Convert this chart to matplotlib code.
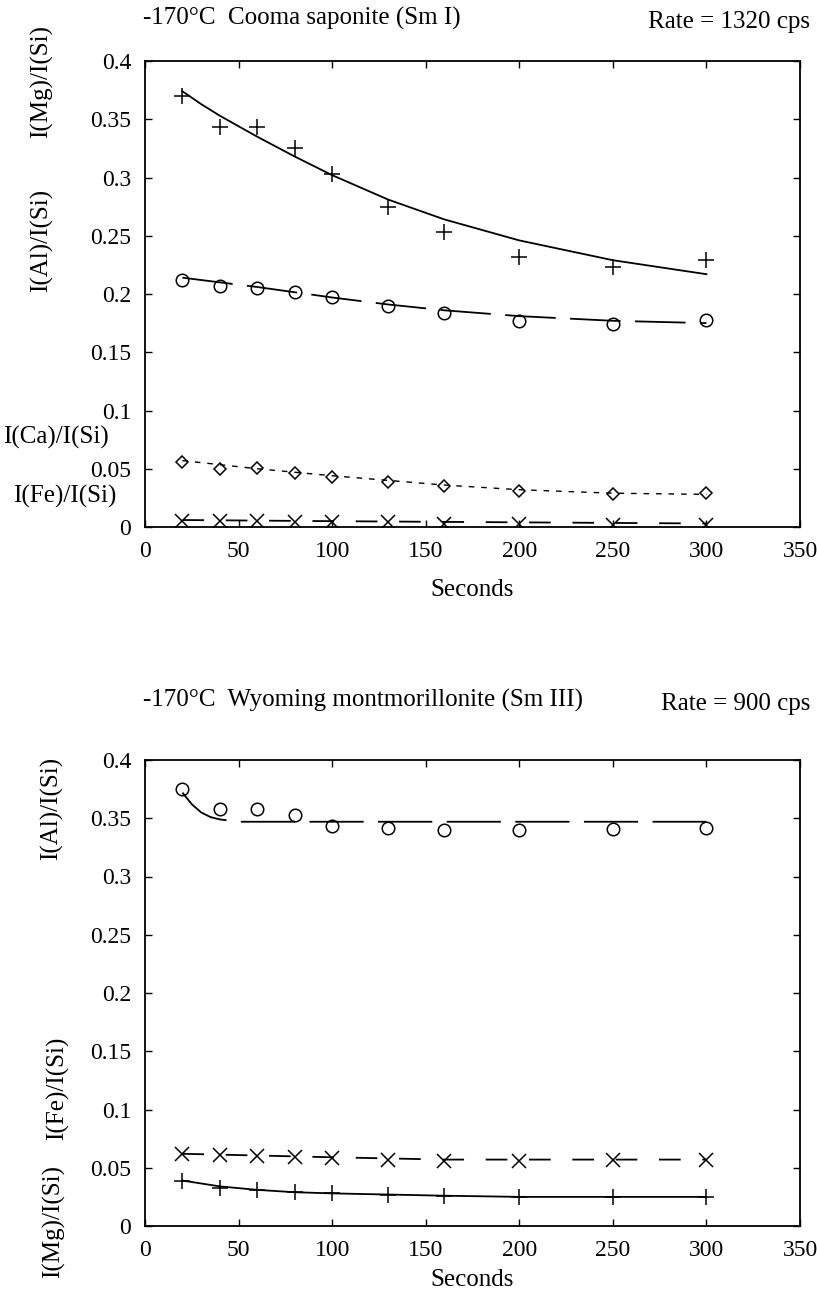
import matplotlib
matplotlib.use("Agg")
import matplotlib.pyplot as plt

plt.rcParams['font.family'] = ['Liberation Serif', 'DejaVu Serif']
plt.rcParams['font.size'] = 17

# ---------- data ----------
seconds = [20, 40, 60, 80, 100, 130, 160, 200, 250, 300]

# Top panel: Cooma saponite (Sm I)
top_mg = [0.370, 0.343, 0.343, 0.325, 0.303, 0.275, 0.253, 0.232, 0.223, 0.229]
top_al = [0.212, 0.207, 0.205, 0.202, 0.197, 0.190, 0.184, 0.177, 0.174, 0.178]
top_ca = [0.056, 0.050, 0.051, 0.046, 0.043, 0.039, 0.035, 0.031, 0.028, 0.029]
top_fe = [0.005, 0.005, 0.005, 0.004, 0.004, 0.004, 0.003, 0.003, 0.002, 0.002]

top_mg_fit_x = [20, 30, 40, 60, 80, 100, 130, 160, 200, 250, 300]
top_mg_fit_y = [0.374, 0.363, 0.353, 0.335, 0.318, 0.302, 0.281, 0.264, 0.246, 0.229, 0.217]
top_al_fit_x = [20, 60, 100, 130, 160, 200, 250, 300]
top_al_fit_y = [0.214, 0.206, 0.197, 0.191, 0.186, 0.181, 0.177, 0.175]
top_ca_fit_x = [20, 60, 100, 130, 160, 200, 250, 300]
top_ca_fit_y = [0.057, 0.050, 0.044, 0.040, 0.036, 0.032, 0.029, 0.028]
top_fe_fit_x = [20, 100, 200, 300]
top_fe_fit_y = [0.006, 0.005, 0.004, 0.003]

# Bottom panel: Wyoming montmorillonite (Sm III)
bot_al = [0.375, 0.358, 0.358, 0.353, 0.343, 0.342, 0.340, 0.340, 0.341, 0.342]
bot_fe = [0.062, 0.061, 0.060, 0.059, 0.058, 0.057, 0.056, 0.056, 0.057, 0.057]
bot_mg = [0.039, 0.033, 0.031, 0.029, 0.028, 0.027, 0.026, 0.025, 0.025, 0.025]

bot_al_fit_x = [20, 25, 30, 35, 40, 50, 100, 150, 200, 250, 300]
bot_al_fit_y = [0.372, 0.362, 0.355, 0.351, 0.349, 0.347, 0.347, 0.347, 0.347, 0.347, 0.347]
bot_fe_fit_x = [20, 100, 160, 200, 300]
bot_fe_fit_y = [0.062, 0.059, 0.057, 0.057, 0.057]
bot_mg_fit_x = [20, 40, 60, 80, 100, 130, 160, 200, 300]
bot_mg_fit_y = [0.039, 0.034, 0.031, 0.029, 0.028, 0.027, 0.026, 0.025, 0.025]

x_ticks = [0, 50, 100, 150, 200, 250, 300, 350]
y_ticks = [0, 0.05, 0.1, 0.15, 0.2, 0.25, 0.3, 0.35, 0.4]
y_ticklabels = ['0', '0.05', '0.1', '0.15', '0.2', '0.25', '0.3', '0.35', '0.4']

W, H = 817, 1300
fig = plt.figure(figsize=(W / 100, H / 100), dpi=100)


def px_axes(left, top, right, bottom):
    return fig.add_axes([left / W, 1 - bottom / H, (right - left) / W, (bottom - top) / H])


def style(ax, labelpad):
    ax.set_xlim(0, 350)
    ax.set_ylim(0, 0.4)
    ax.set_xticks(x_ticks)
    ax.set_xticklabels([str(t) for t in x_ticks])
    ax.set_yticks(y_ticks)
    ax.set_yticklabels(y_ticklabels)
    ax.tick_params(direction='in', length=5, width=1, top=True, right=True,
                   labelsize=17, pad=10)
    for s in ax.spines.values():
        s.set_linewidth(1.3)
    ax.set_xlabel('Seconds', fontsize=18, labelpad=labelpad)


k = 'black'
mk = dict(color=k, linestyle='none', markerfacecolor='none', markeredgewidth=1.1)

# ---------- top panel ----------
ax1 = px_axes(145, 61, 800, 527)
style(ax1, 12)
ax1.plot(top_mg_fit_x, top_mg_fit_y, color=k, lw=1.3)
ax1.plot(top_al_fit_x, top_al_fit_y, color=k, lw=1.3, dashes=(28, 8))
ax1.plot(top_ca_fit_x, top_ca_fit_y, color=k, lw=1.0, dashes=(4, 5))
ax1.plot(top_fe_fit_x, top_fe_fit_y, color=k, lw=1.3, dashes=(12, 12))
ax1.plot(seconds, top_mg, marker='+', markersize=12, **mk)
ax1.plot(seconds, top_al, marker='o', markersize=9, **mk)
ax1.plot(seconds, top_ca, marker='D', markersize=6.5, **mk)
ax1.plot(seconds, top_fe, marker='x', markersize=10, **mk)

fig.text(143 / W, 1 - 18 / H, '-170°C  Cooma saponite (Sm I)', fontsize=18, ha='left', va='center')
fig.text(810 / W, 1 - 22 / H, 'Rate = 1320 cps', fontsize=18, ha='right', va='center')
fig.text(42 / W, 1 - 82 / H, 'I(Mg)/I(Si)', fontsize=18, rotation=90, ha='center', va='center')
fig.text(42 / W, 1 - 240 / H, 'I(Al)/I(Si)', fontsize=18, rotation=90, ha='center', va='center')
fig.text(3 / W, 1 - 437 / H, 'I(Ca)/I(Si)', fontsize=18, ha='left', va='center')
fig.text(116 / W, 1 - 496 / H, 'I(Fe)/I(Si)', fontsize=18, ha='right', va='center')

# ---------- bottom panel ----------
ax2 = px_axes(145, 760, 800, 1226)
style(ax2, 6)
ax2.plot(bot_al_fit_x, bot_al_fit_y, color=k, lw=1.3, dashes=(30, 8))
ax2.plot(bot_fe_fit_x, bot_fe_fit_y, color=k, lw=1.3, dashes=(12, 12))
ax2.plot(bot_mg_fit_x, bot_mg_fit_y, color=k, lw=1.3)
ax2.plot(seconds, bot_al, marker='o', markersize=9, **mk)
ax2.plot(seconds, bot_fe, marker='x', markersize=10, **mk)
ax2.plot(seconds, bot_mg, marker='+', markersize=12, **mk)

fig.text(143 / W, 1 - 700 / H, '-170°C  Wyoming montmorillonite (Sm III)', fontsize=18, ha='left', va='center')
fig.text(810 / W, 1 - 704 / H, 'Rate = 900 cps', fontsize=18, ha='right', va='center')
fig.text(52 / W, 1 - 808 / H, 'I(Al)/I(Si)', fontsize=18, rotation=90, ha='center', va='center')
fig.text(58 / W, 1 - 1088 / H, 'I(Fe)/I(Si)', fontsize=18, rotation=90, ha='center', va='center')
fig.text(54 / W, 1 - 1222 / H, 'I(Mg)/I(Si)', fontsize=18, rotation=90, ha='center', va='center')

fig.savefig('out.png', dpi=100)
